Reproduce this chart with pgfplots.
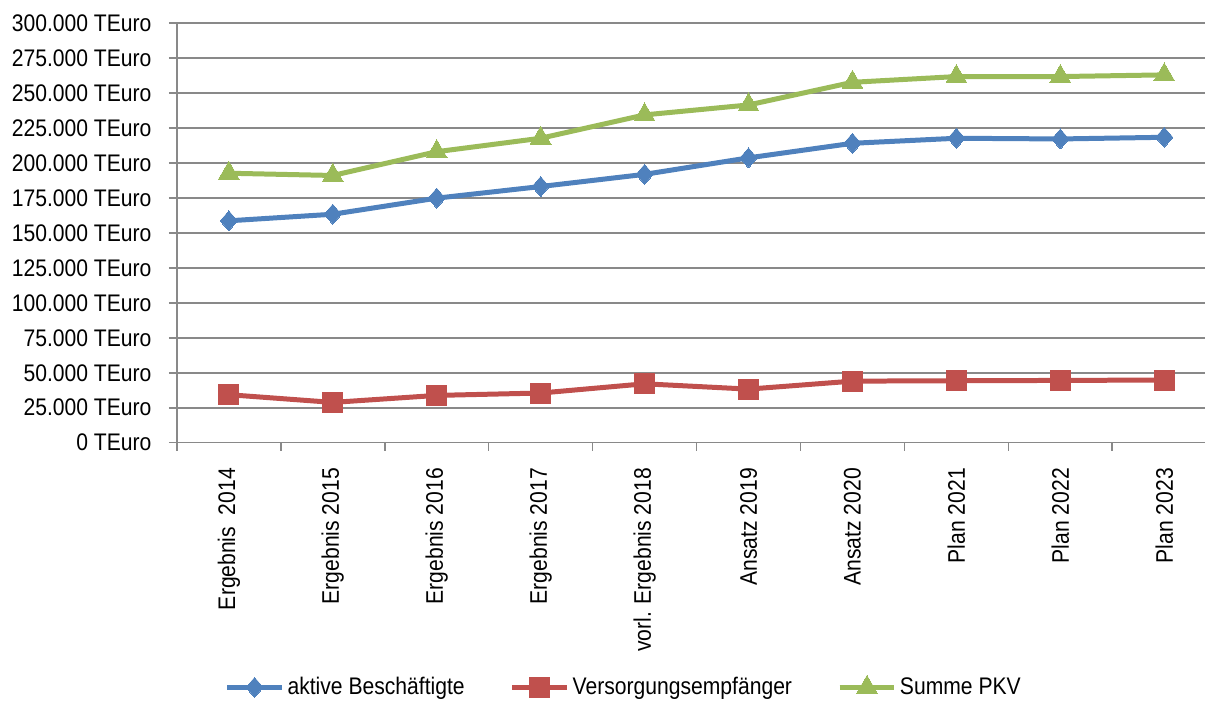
\documentclass[border=0pt]{standalone}
\usepackage{fontspec}
\setmainfont{Liberation Sans}[FakeStretch=0.88]
\usepackage{pgfplots}
\pgfplotsset{compat=1.18}

\definecolor{cBlue}{HTML}{4F81BD}
\definecolor{cRed}{HTML}{C0504D}
\definecolor{cGreen}{HTML}{9BBB59}
\definecolor{cGrid}{HTML}{898989}

\begin{document}
\begin{tikzpicture}[font=\fontsize{12}{14.4}\selectfont]
\begin{axis}[
    name=main,
    scale only axis,
    width=514.5pt,
    height=210pt,
    xmin=-0.5, xmax=9.394,
    ymin=0, ymax=300000,
    scaled y ticks=false,
    axis x line=bottom,
    axis y line=left,
    axis line style={-, draw=cGrid, line width=0.8pt},
    ymajorgrids,
    grid style={draw=cGrid, line width=0.8pt},
    ytick={0,25000,...,300000},
    yticklabels={0 TEuro, 25.000 TEuro, 50.000 TEuro, 75.000 TEuro, 100.000 TEuro,
                 125.000 TEuro, 150.000 TEuro, 175.000 TEuro, 200.000 TEuro,
                 225.000 TEuro, 250.000 TEuro, 275.000 TEuro, 300.000 TEuro},
    xtick={0,...,9},
    xticklabels={Ergebnis~ 2014, Ergebnis 2015, Ergebnis 2016, Ergebnis 2017,
                 vorl. Ergebnis 2018, Ansatz 2019, Ansatz 2020, Plan 2021,
                 Plan 2022, Plan 2023},
    minor xtick={-0.5,0.5,...,9.5},
    tick align=outside,
    major x tick style={draw=none},
    tick style={draw=cGrid, line width=0.8pt},
    major tick length=4pt,
    minor tick length=4pt,
    xticklabel style={rotate=90, anchor=east, inner sep=0pt},
    xticklabel shift=8.5pt,
    yticklabel style={anchor=east, inner sep=0pt},
    yticklabel shift=8.5pt,
    legend columns=3,
    legend style={draw=none, at={(0.435,-0.583)}, anchor=center,
        /tikz/every even column/.append style={column sep=21pt},
        nodes={inner xsep=1.5pt},
        inner sep=0pt},
    legend image code/.code={
        \draw[mark repeat=2, mark phase=2] plot coordinates {(0pt,0pt) (13.75pt,0pt) (27.5pt,0pt)};
    },
    every axis plot/.append style={line width=2.5pt},
]
\addplot[color=cBlue, mark=diamond*, mark size=5pt, mark options={line width=0pt, xscale=1.15}]
coordinates {
(0,158600) (1,163300) (2,174800) (3,183100) (4,191800)
(5,203600) (6,214000) (7,217600) (8,217100) (9,218300)
};
\addlegendentry{aktive Beschäftigte}
\addplot[color=cRed, mark=square*, mark size=5pt, mark options={line width=0pt}]
coordinates {
(0,34300) (1,28800) (2,33800) (3,35500) (4,42100)
(5,38300) (6,44000) (7,44300) (8,44500) (9,44800)
};
\addlegendentry{Versorgungsempfänger}
\addplot[color=cGreen, mark=triangle*, mark size=6pt, mark options={line width=0pt}]
coordinates {
(0,192600) (1,191000) (2,208000) (3,217600) (4,234300)
(5,241400) (6,257600) (7,261700) (8,261700) (9,262900)
};
\addlegendentry{Summe PKV}
\end{axis}
% page frame matching the reference margins
\path (main.south west) ++(-88.5pt,221.5pt) coordinate (tl);
\path (main.south west) ++(514.5pt,-128.5pt) coordinate (br);
\path (tl) rectangle (br);
\end{tikzpicture}
\end{document}
